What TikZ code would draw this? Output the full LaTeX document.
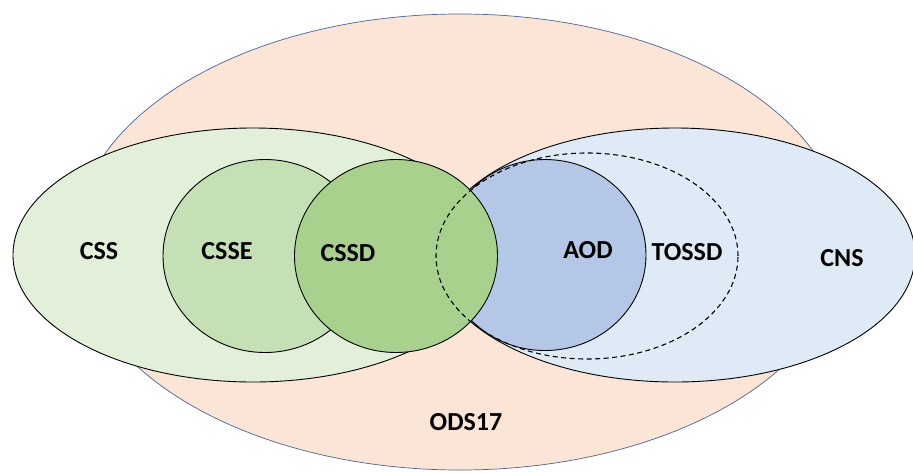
\documentclass[tikz,border=0pt]{standalone}
\usepackage{fontspec}
\setmainfont{Carlito}
\usetikzlibrary{shapes.geometric}
\definecolor{odsfill}{HTML}{FBE5D6}
\definecolor{odsline}{HTML}{4A6496}
\definecolor{cssfill}{HTML}{E2F0D9}
\definecolor{ssefill}{HTML}{C5E0B4}
\definecolor{ssdfill}{HTML}{A9D18E}
\definecolor{cnsfill}{HTML}{DEEBF7}
\definecolor{aodfill}{HTML}{B4C7E7}
\begin{document}
\begin{tikzpicture}[x=1pt,y=-1pt]
    \tikzstyle{set}=[draw,shape=ellipse,inner sep=0pt,line width=0.9pt];
    \tikzstyle{tag}=[font=\fontsize{26}{30}\selectfont\bfseries];
    \useasboundingbox (0,0) rectangle (913,472);
    %sets, back to front
    \node[set,fill=odsfill,draw=odsline,line width=0.7pt,minimum width=770pt,minimum height=456pt] (ods) at (460,242) {};
    \node[set,fill=cnsfill,minimum width=480pt,minimum height=254pt] (cns) at (675,255) {};
    \node[set,fill=aodfill,minimum width=202pt,minimum height=191pt] (aod) at (545,255) {};
    \node[set,fill=cssfill,minimum width=480pt,minimum height=254pt] (css) at (253,255) {};
    \node[set,fill=ssefill,minimum width=204pt,minimum height=193pt] (csse) at (265,256) {};
    \node[set,fill=ssdfill,minimum width=203pt,minimum height=193pt] (cssd) at (396,256) {};
    \node[set,line width=1.1pt,dash pattern=on 5pt off 3.5pt,minimum width=302pt,minimum height=206pt] (tossd) at (587,256) {};
    %labels
    \node[tag] (ods-t) at (466,422) {ODS17};
    \node[tag] (css-t) at (99,251) {CSS};
    \node[tag] (csse-t) at (227,251) {CSSE};
    \node[tag] (cssd-t) at (348,253) {CSSD};
    \node[tag] (aod-t) at (588,250) {AOD};
    \node[tag] (tossd-t) at (687,252) {TOSSD};
    \node[tag] (cns-t) at (842,258) {CNS};
  \end{tikzpicture}
\end{document}
